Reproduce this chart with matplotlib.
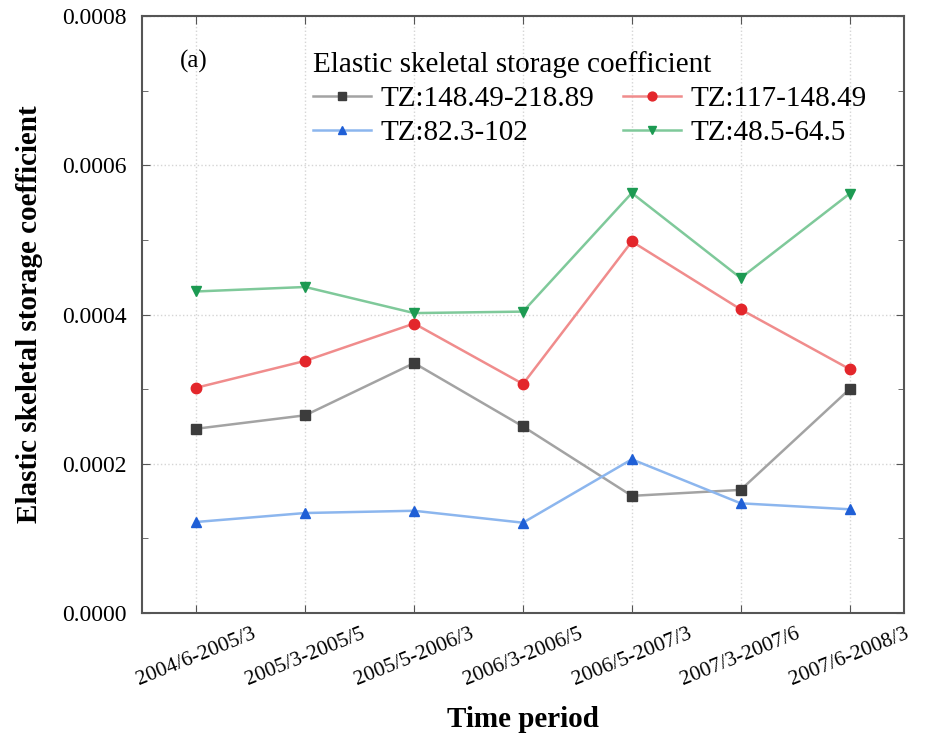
import numpy as np
import matplotlib
matplotlib.use('Agg')
from matplotlib import pyplot as plt
from matplotlib.ticker import MultipleLocator

periods = ['2004/6-2005/3', '2005/3-2005/5', '2005/5-2006/3', '2006/3-2006/5',
           '2006/5-2007/3', '2007/3-2007/6', '2007/6-2008/3']
tz_148_218 = [0.000247, 0.000265, 0.000335, 0.000250, 0.000157, 0.000165, 0.000300]
tz_117_148 = [0.000302, 0.000338, 0.000388, 0.000307, 0.000498, 0.000407, 0.000327]
tz_82_102 = [0.000122, 0.000134, 0.000137, 0.000121, 0.000206, 0.000147, 0.000139]
tz_48_64 = [0.000431, 0.000437, 0.000402, 0.000404, 0.000563, 0.000449, 0.000562]

plt.rcParams['font.family'] = ['Liberation Serif', 'DejaVu Serif']

fig = plt.figure(figsize=(9.3, 7.37), dpi=100)
ax = fig.add_axes([0.1527, 0.1683, 0.8193, 0.8097])
x = np.arange(len(periods))

# line colour, marker colour, marker
series = [
  (tz_148_218, 'TZ:148.49-218.89', '#a3a3a3', '#3c3c3c', 's', 6.5),
  (tz_82_102, 'TZ:82.3-102', '#8cb6ee', '#1f5fd6', '^', 7.5),
  (tz_117_148, 'TZ:117-148.49', '#f08c8c', '#e3262b', 'o', 7.5),
  (tz_48_64, 'TZ:48.5-64.5', '#7fc99a', '#1c9a52', 'v', 7.5),
]
for vals, name, lc, mc, mk, ms in series:
  ax.plot(x, vals, color=lc, lw=1.8, marker=mk, markersize=ms,
          markerfacecolor=mc, markeredgecolor=mc, label=name)

ax.set_xlim(-0.5, 6.5)
ax.set_ylim(0, 0.0008)
ax.yaxis.set_major_locator(MultipleLocator(0.0002))
ax.yaxis.set_minor_locator(MultipleLocator(0.0001))
ax.yaxis.set_major_formatter(matplotlib.ticker.FormatStrFormatter('%.4f'))
ax.set_xticks(x)
ax.set_xticklabels(periods, rotation=22, ha='center', va='top')
ax.tick_params(which='both', direction='in', top=True, right=True, color='#555555')
ax.tick_params(axis='y', labelsize=17, pad=11)
ax.tick_params(axis='x', labelsize=15.5, pad=8)
ax.tick_params(which='major', length=6)
ax.tick_params(which='minor', length=4)
for sp in ax.spines.values():
  sp.set_color('#555555')
  sp.set_linewidth(1.5)
ax.grid(which='major', color='#d5d5d5', linestyle=':', linewidth=1)

ax.set_xlabel('Time period', fontsize=21, fontweight='bold', labelpad=12)
ax.set_ylabel('Elastic skeletal storage coefficient', fontsize=21, fontweight='bold', labelpad=14)

ax.text(0.05, 0.925, '(a)', transform=ax.transAxes, fontsize=18, ha='left', va='center')

leg = ax.legend(ncol=2, frameon=False, fontsize=21, title='Elastic skeletal storage coefficient',
                title_fontsize=21, loc='upper left', bbox_to_anchor=(0.19, 0.985),
                handlelength=2.0, columnspacing=1.0, handletextpad=0.3, labelspacing=0.25,
                markerscale=0.85)
leg._legend_box.align = 'left'

plt.savefig('out.png')
